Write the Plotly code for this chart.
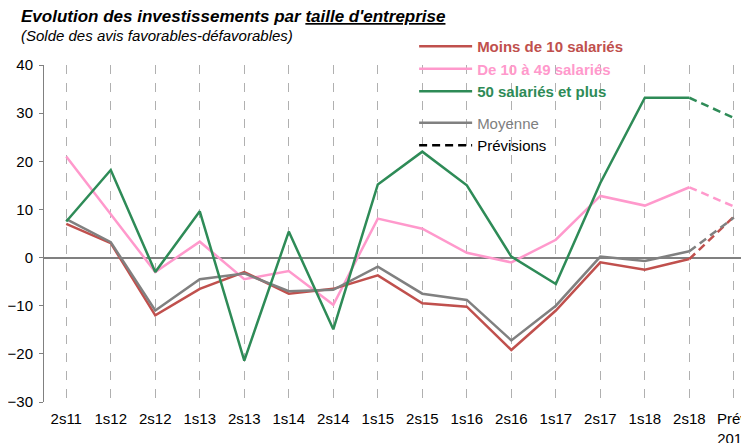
import plotly.graph_objects as go

categories = ["2s11", "1s12", "2s12", "1s13", "2s13", "1s14", "2s14", "1s15",
              "2s15", "1s16", "2s16", "1s17", "2s17", "1s18", "2s18", "Prév.<br>2019"]

moins_10 = [7, 3, -12, -6.5, -3, -7.5, -6.5, -3.7, -9.5, -10.2, -19.2, -11, -1, -2.5, -0.3, 8.5]
de_10_49 = [21, 9, -3, 3.3, -4.5, -2.8, -9.8, 8.1, 6, 1, -1, 3.7, 12.8, 10.8, 14.6, 10.6]
plus_50 = [7.5, 18.2, -3, 9.6, -21.4, 5.4, -14.9, 15.2, 22, 15, 0.2, -5.5, 15.5, 33.2, 33.2, 29]
moyenne = [8, 3.2, -11, -4.5, -3.3, -7, -6.7, -1.9, -7.5, -8.8, -17.2, -10, 0.2, -0.7, 1.3, 8.3]

RED = '#C0504D'
PINK = '#FF99CC'
GREEN = '#2E8B57'
GREY = '#808080'

FONT = 'Arial, Liberation Sans, sans-serif'

# (values, colour, legend label, legend rank, legend group) - listed in drawing order
series = [
    (de_10_49, PINK, "<b><span style='color:%s'>De 10 à 49 salariés</span></b>" % PINK, 2, 'a'),
    (moins_10, RED, "<b><span style='color:%s'>Moins de 10 salariés</span></b>" % RED, 1, 'a'),
    (moyenne, GREY, "<span style='color:%s'>Moyenne</span>" % GREY, 4, 'b'),
    (plus_50, GREEN, "<b><span style='color:%s'>50 salariés et plus</span></b>" % GREEN, 3, 'a'),
]

fig = go.Figure()

for vals, col, label, rank, grp in series:
    # observed part, solid
    fig.add_trace(go.Scatter(x=categories[:-1], y=vals[:-1], mode='lines',
                             line=dict(color=col, width=2.5),
                             name=label, legendrank=rank, legendgroup=grp))
    # forecast part, dashed
    fig.add_trace(go.Scatter(x=categories[-2:], y=vals[-2:], mode='lines',
                             line=dict(color=col, width=2.5, dash='8px,5px'),
                             showlegend=False, legendgroup=grp))

# legend entry for forecasts
fig.add_trace(go.Scatter(x=[categories[0]], y=[None], mode='lines',
                         line=dict(color='black', width=2.5, dash='8px,5px'),
                         name='Prévisions', legendrank=5, legendgroup='b'))

fig.update_xaxes(type='category', range=[-0.5, 15.34], showgrid=True, griddash='dash',
                 gridcolor='#B0B0B0', gridwidth=1, showline=False, ticks='',
                 ticklabelstandoff=6, automargin=False,
                 tickfont=dict(family=FONT, color='black', size=15))
fig.update_yaxes(range=[-30, 40], dtick=10, showgrid=False, zeroline=True,
                 zerolinecolor=GREY, zerolinewidth=1.5, showline=True, linecolor=GREY,
                 linewidth=1, ticks='outside', ticklen=4, tickcolor=GREY,
                 ticklabelstandoff=3, automargin=False,
                 tickfont=dict(family=FONT, color='black', size=15))

fig.add_annotation(xref='paper', yref='paper', x=-0.0355, y=1.177, xanchor='left', yanchor='top',
                   text="<b><i>Evolution des investissements par <u>taille d'entreprise</u></i></b>",
                   showarrow=False, font=dict(family=FONT, size=17, color='black'))
fig.add_annotation(xref='paper', yref='paper', x=-0.0355, y=1.118, xanchor='left', yanchor='top',
                   text="<i>(Solde des avis favorables-défavorables)</i>",
                   showarrow=False, font=dict(family=FONT, size=15, color='black'))

# page body has an 8px margin, so the figure is made 8px smaller each way
fig.update_layout(width=741, height=435, margin={'l': 36, 'r': 0, 't': 57, 'b': 41},
                  plot_bgcolor='white', paper_bgcolor='white',
                  legend=dict(x=0.525, y=1.104, xanchor='left', yanchor='top',
                              bgcolor='rgba(0,0,0,0)', tracegroupgap=9,
                              traceorder='grouped', itemwidth=53,
                              font=dict(family=FONT, size=15, color='black')))

fig.write_html("out.html")
